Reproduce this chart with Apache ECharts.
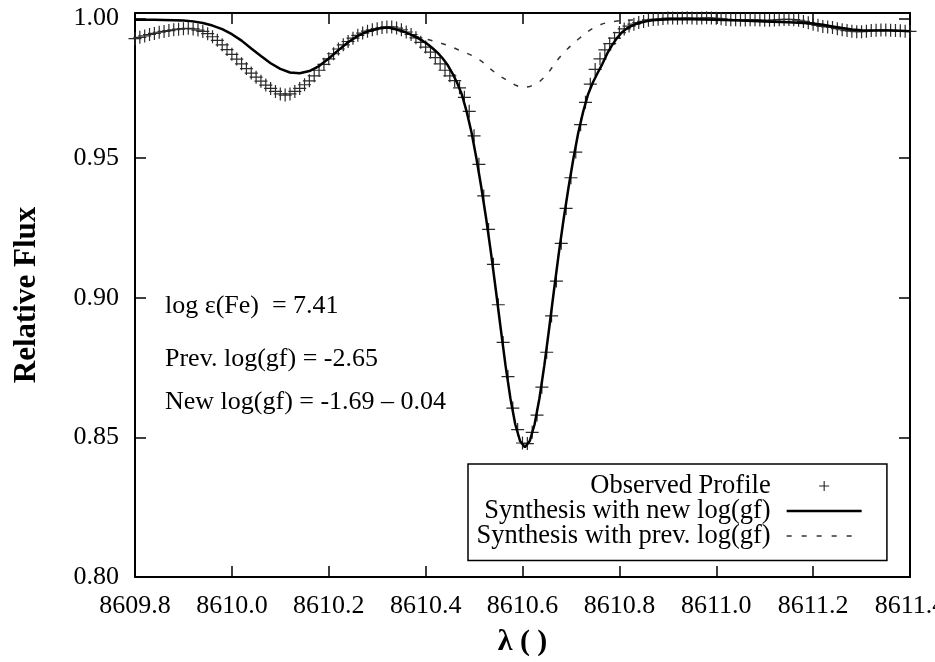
<!DOCTYPE html>
<html>
<head>
<meta charset="utf-8">
<script src="https://cdn.jsdelivr.net/npm/echarts@6/dist/echarts.min.js"></script>
<style>
  html, body { margin: 0; padding: 0; background: #fff; }
  #chart { width: 935px; height: 662px; }
</style>
</head>
<body>
<div id="chart"></div>
<script>
// Axis ranges (wavelength in Å, relative flux)
const xMin = 8609.8, xMax = 8611.4, xStep = 0.2;
const yMin = 0.80, yMax = 1.002, yStep = 0.05;

// Legend / series names
const obsName = 'Observed Profile';
const newName = 'Synthesis with new log(gf)';
const prevName = 'Synthesis with prev. log(gf)';

// Text annotations
const noteLines = ['log ε(Fe)  = 7.41', 'Prev. log(gf) = -2.65', 'New log(gf) = -1.69 – 0.04'];

// Observed spectrum
const obsWave = [
  8609.80, 8609.81, 8609.82, 8609.83, 8609.84, 8609.85, 8609.86, 8609.87, 8609.88, 8609.89,
  8609.90, 8609.91, 8609.92, 8609.93, 8609.94, 8609.95, 8609.96, 8609.97, 8609.98, 8609.99,
  8610.00, 8610.01, 8610.02, 8610.03, 8610.04, 8610.05, 8610.06, 8610.07, 8610.08, 8610.09,
  8610.10, 8610.11, 8610.12, 8610.13, 8610.14, 8610.15, 8610.16, 8610.17, 8610.18, 8610.19,
  8610.20, 8610.21, 8610.22, 8610.23, 8610.24, 8610.25, 8610.26, 8610.27, 8610.28, 8610.29,
  8610.30, 8610.31, 8610.32, 8610.33, 8610.34, 8610.35, 8610.36, 8610.37, 8610.38, 8610.39,
  8610.40, 8610.41, 8610.42, 8610.43, 8610.44, 8610.45, 8610.46, 8610.47, 8610.48, 8610.49,
  8610.50, 8610.51, 8610.52, 8610.53, 8610.54, 8610.55, 8610.56, 8610.57, 8610.58, 8610.59,
  8610.60, 8610.61, 8610.62, 8610.63, 8610.64, 8610.65, 8610.66, 8610.67, 8610.68, 8610.69,
  8610.70, 8610.71, 8610.72, 8610.73, 8610.74, 8610.75, 8610.76, 8610.77, 8610.78, 8610.79,
  8610.80, 8610.81, 8610.82, 8610.83, 8610.84, 8610.85, 8610.86, 8610.87, 8610.88, 8610.89,
  8610.90, 8610.91, 8610.92, 8610.93, 8610.94, 8610.95, 8610.96, 8610.97, 8610.98, 8610.99,
  8611.00, 8611.01, 8611.02, 8611.03, 8611.04, 8611.05, 8611.06, 8611.07, 8611.08, 8611.09,
  8611.10, 8611.11, 8611.12, 8611.13, 8611.14, 8611.15, 8611.16, 8611.17, 8611.18, 8611.19,
  8611.20, 8611.21, 8611.22, 8611.23, 8611.24, 8611.25, 8611.26, 8611.27, 8611.28, 8611.29,
  8611.30, 8611.31, 8611.32, 8611.33, 8611.34, 8611.35, 8611.36, 8611.37, 8611.38, 8611.39,
  8611.40
];
const obsFlux = [
  0.9928, 0.9933, 0.9938, 0.9943, 0.9947, 0.9951, 0.9954, 0.9957, 0.9960, 0.9962,
  0.9964, 0.9965, 0.9963, 0.9959, 0.9954, 0.9946, 0.9935, 0.9922, 0.9906, 0.9889,
  0.9872, 0.9855, 0.9838, 0.9821, 0.9805, 0.9790, 0.9776, 0.9762, 0.9750, 0.9739,
  0.9730, 0.9726, 0.9730, 0.9739, 0.9750, 0.9763, 0.9777, 0.9795, 0.9815, 0.9836,
  0.9856, 0.9874, 0.9891, 0.9906, 0.9918, 0.9930, 0.9940, 0.9948, 0.9955, 0.9960,
  0.9964, 0.9968, 0.9970, 0.9970, 0.9966, 0.9960, 0.9952, 0.9943, 0.9931, 0.9915,
  0.9898, 0.9880, 0.9860, 0.9838, 0.9815, 0.9795, 0.9778, 0.9752, 0.9718, 0.9668,
  0.9580, 0.9478, 0.9365, 0.9245, 0.9120, 0.8975, 0.8840, 0.8718, 0.8605, 0.8528,
  0.8480, 0.8478, 0.8518, 0.8580, 0.8680, 0.8805, 0.8935, 0.9060, 0.9195, 0.9320,
  0.9430, 0.9522, 0.9620, 0.9700, 0.9765, 0.9818, 0.9856, 0.9888, 0.9910, 0.9930,
  0.9950, 0.9963, 0.9973, 0.9980, 0.9986, 0.9990, 0.9994, 0.9997, 0.9998, 1.0000,
  1.0002, 1.0002, 1.0001, 1.0002, 1.0003, 1.0002, 1.0001, 1.0002, 1.0003, 1.0002,
  1.0001, 0.9999, 0.9997, 0.9996, 0.9996, 0.9995, 0.9995, 0.9996, 0.9996, 0.9995,
  0.9994, 0.9994, 0.9995, 0.9996, 0.9997, 0.9997, 0.9996, 0.9994, 0.9990, 0.9985,
  0.9980, 0.9976, 0.9972, 0.9970, 0.9968, 0.9964, 0.9960, 0.9957, 0.9955, 0.9953,
  0.9953, 0.9955, 0.9957, 0.9958, 0.9959, 0.9959, 0.9958, 0.9957, 0.9956, 0.9955,
  0.9954
];

// Synthetic spectra wavelength grid
const synWave = [
  8609.80, 8609.84, 8609.88, 8609.90, 8609.92, 8609.94, 8609.96, 8609.98,
  8610.00, 8610.02, 8610.04, 8610.06, 8610.08, 8610.10, 8610.12, 8610.14,
  8610.16, 8610.18, 8610.20, 8610.22, 8610.24, 8610.26, 8610.28,
  8610.305, 8610.315, 8610.325, 8610.335, 8610.345, 8610.355, 8610.365, 8610.375,
  8610.385, 8610.395, 8610.405, 8610.415, 8610.425, 8610.435, 8610.445, 8610.455,
  8610.465, 8610.475, 8610.485, 8610.495, 8610.505, 8610.515, 8610.525, 8610.535,
  8610.545, 8610.555, 8610.565, 8610.575, 8610.585, 8610.595, 8610.605, 8610.615,
  8610.625, 8610.635, 8610.645, 8610.655, 8610.665, 8610.675, 8610.685, 8610.695,
  8610.705, 8610.715, 8610.725, 8610.735, 8610.745, 8610.755, 8610.765, 8610.775,
  8610.785, 8610.795, 8610.805, 8610.815, 8610.825, 8610.835, 8610.845, 8610.855,
  8610.865, 8610.875, 8610.885, 8610.895, 8610.905,
  8610.95, 8611.00, 8611.05, 8611.10, 8611.15, 8611.20, 8611.22, 8611.24,
  8611.26, 8611.28, 8611.30, 8611.32, 8611.34, 8611.36, 8611.38, 8611.40
];
// Synthesis with the new log(gf)
const newFlux = [
  0.9996, 0.9996, 0.9994, 0.9993, 0.9990, 0.9984, 0.9975, 0.9962,
  0.9944, 0.9921, 0.9893, 0.9866, 0.9840, 0.9820, 0.9807, 0.9804,
  0.9812, 0.9830, 0.9857, 0.9887, 0.9915, 0.9938, 0.9954,
  0.9965, 0.9967, 0.9967, 0.9963, 0.9958, 0.9953, 0.9946, 0.9938,
  0.9929, 0.9919, 0.9907, 0.9893, 0.9877, 0.9858, 0.9835, 0.9805,
  0.9770, 0.9727, 0.9665, 0.9590, 0.9498, 0.9395, 0.9283, 0.9160,
  0.9027, 0.8890, 0.8757, 0.8640, 0.8547, 0.8487, 0.8465, 0.8487,
  0.8547, 0.8640, 0.8757, 0.8890, 0.9027, 0.9160, 0.9283, 0.9395,
  0.9498, 0.9590, 0.9665, 0.9727, 0.9770, 0.9805, 0.9838, 0.9875,
  0.9905, 0.9930, 0.9950, 0.9964, 0.9974, 0.9981, 0.9986, 0.9990,
  0.9993, 0.9995, 0.9996, 0.9997, 0.9998,
  0.9998, 0.9996, 0.9993, 0.9990, 0.9987, 0.9982, 0.9978, 0.9972,
  0.9966, 0.9961, 0.9958, 0.9957, 0.9957, 0.9957, 0.9956, 0.9955
];
// Synthesis with the previous log(gf)
const prevFlux = [
  0.9996, 0.9996, 0.9994, 0.9993, 0.9990, 0.9984, 0.9975, 0.9962,
  0.9944, 0.9921, 0.9893, 0.9866, 0.9840, 0.9820, 0.9807, 0.9804,
  0.9812, 0.9830, 0.9857, 0.9887, 0.9915, 0.9938, 0.9954,
  0.9965, 0.9967, 0.9967, 0.9963, 0.9958, 0.9953, 0.9946, 0.9939,
  0.9934, 0.9929, 0.9925, 0.9920, 0.9915, 0.9910, 0.9905, 0.9898,
  0.9890, 0.9883, 0.9876, 0.9868, 0.9859, 0.9848, 0.9834, 0.9818,
  0.9804, 0.9792, 0.9782, 0.9771, 0.9762, 0.9755, 0.9754, 0.9757,
  0.9764, 0.9774, 0.9790, 0.9810, 0.9835, 0.9858, 0.9877, 0.9895,
  0.9911, 0.9926, 0.9940, 0.9954, 0.9965, 0.9974, 0.9981, 0.9986,
  0.9989, 0.9991, 0.9993, 0.9994, 0.9995, 0.9995, 0.9995, 0.9995,
  0.9995, 0.9995, 0.9996, 0.9997, 0.9998,
  0.9998, 0.9996, 0.9993, 0.9990, 0.9987, 0.9982, 0.9978, 0.9972,
  0.9966, 0.9961, 0.9958, 0.9957, 0.9957, 0.9957, 0.9956, 0.9955
];

const serif = '"Liberation Serif", "Times New Roman", serif';
const pairs = (xs, ys) => xs.map((x, i) => [x, ys[i]]);
const plusPath = 'path://M0,5 L10,5 M5,0 L5,10';

const frameLine = { show: true, onZero: false, lineStyle: { color: '#000', width: 2 } };
const innerTick = { show: true, inside: true, length: 11, lineStyle: { color: '#000', width: 1.5 } };

const chart = echarts.init(document.getElementById('chart'), null, { renderer: 'canvas' });
chart.setOption({
  animation: false,
  backgroundColor: '#fff',
  grid: { left: 135, right: 25, top: 13, bottom: 85, containLabel: false, outerBoundsMode: 'none' },
  xAxis: [
    {
      type: 'value', position: 'bottom', min: xMin, max: xMax, interval: xStep,
      axisLine: frameLine, axisTick: innerTick, splitLine: { show: false },
      axisLabel: {
        formatter: v => v.toFixed(1), fontFamily: serif, fontSize: 26, color: '#000', margin: 16
      },
      name: 'λ ( )', nameLocation: 'middle', nameGap: 50,
      nameTextStyle: { fontFamily: serif, fontSize: 30, fontWeight: 'bold', color: '#000' }
    },
    {
      type: 'value', position: 'top', min: xMin, max: xMax, interval: xStep,
      axisLine: frameLine, axisTick: innerTick, splitLine: { show: false },
      axisLabel: { show: false }
    }
  ],
  yAxis: [
    {
      type: 'value', position: 'left', min: yMin, max: yMax, interval: yStep,
      axisLine: frameLine, axisTick: innerTick, splitLine: { show: false },
      axisLabel: {
        formatter: v => (Math.abs(v - yMax) < 1e-9 ? '' : v.toFixed(2)),
        fontFamily: serif, fontSize: 26, color: '#000', margin: 16
      },
      name: 'Relative Flux', nameLocation: 'middle', nameGap: 93, nameRotate: 90,
      nameTextStyle: { fontFamily: serif, fontSize: 31, fontWeight: 'bold', color: '#000' }
    },
    {
      type: 'value', position: 'right', min: yMin, max: yMax, interval: yStep,
      axisLine: frameLine, axisTick: innerTick, splitLine: { show: false },
      axisLabel: { show: false }
    }
  ],
  legend: {
    data: [
      { name: obsName, itemStyle: { opacity: 1, color: 'transparent', borderColor: '#222', borderWidth: 1.1 }, lineStyle: { width: 0 } },
      { name: newName, itemStyle: { opacity: 0 }, lineStyle: { width: 2.5, color: '#000', type: 'solid', opacity: 1 } },
      { name: prevName, itemStyle: { opacity: 0 }, lineStyle: { width: 1.4, color: '#333', type: [5, 10], opacity: 1 } }
    ],
    orient: 'vertical', align: 'right', left: 468, top: 464,
    itemWidth: 75, itemHeight: 12.5, itemGap: -2,
    padding: [8.5, 24, 11, 8.5],
    borderColor: '#000', borderWidth: 1.5, backgroundColor: '#fff',
    selectedMode: false,
    textStyle: { fontFamily: serif, fontSize: 26.5, color: '#000', lineHeight: 25, padding: [0, 11, 0, 0] }
  },
  graphic: noteLines.map((t, i) => ({
    type: 'text', x: 165, y: [306, 359, 402][i], silent: true,
    style: { text: t, font: '26px ' + serif, fill: '#000', verticalAlign: 'middle' }
  })),
  series: [
    {
      name: obsName, type: 'line', data: pairs(obsWave, obsFlux),
      symbol: plusPath, symbolSize: 13, showSymbol: true, showAllSymbol: true,
      lineStyle: { width: 0 },
      itemStyle: { color: 'transparent', borderColor: '#2a2a2a', borderWidth: 1.2 },
      silent: true, z: 2
    },
    {
      name: prevName, type: 'line', data: pairs(synWave, prevFlux),
      symbol: 'none', smooth: false,
      lineStyle: { width: 1.5, color: '#333', type: [5, 9] },
      silent: true, z: 3
    },
    {
      name: newName, type: 'line', data: pairs(synWave, newFlux),
      symbol: 'none', smooth: false,
      lineStyle: { width: 2.5, color: '#000' },
      silent: true, z: 4
    }
  ]
});
</script>
</body>
</html>
